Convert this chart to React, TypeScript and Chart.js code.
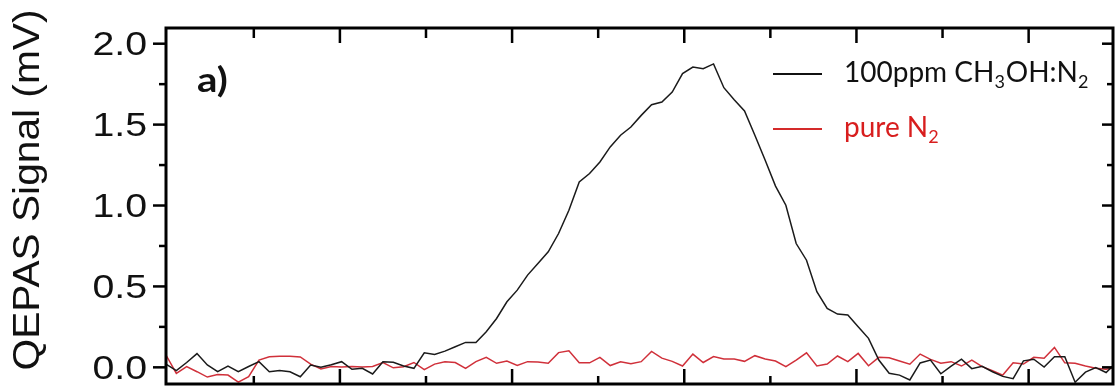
import React, { useEffect, useRef } from "react";
import { Chart, registerables } from "chart.js";

Chart.register(...registerables);

// Sampling grid of the scan (arbitrary units along the horizontal axis)
const SAMPLE_START = -0.02;
const SAMPLE_STEP = 0.12;

// QEPAS signal (mV) for 100 ppm CH3OH in N2
const methanolSignal = [
  0.02, -0.02, 0.03, 0.085, 0.015, -0.027, 0.008, -0.027, 0.005, 0.035,
  -0.027, -0.02, -0.027, -0.058, 0.014, 0.0, 0.016, 0.035, -0.012, -0.006,
  -0.041, 0.035, 0.031, 0.008, -0.006, 0.09, 0.08, 0.1, 0.127, 0.154,
  0.154, 0.22, 0.302, 0.405, 0.477, 0.57, 0.642, 0.714, 0.827, 0.971,
  1.146, 1.198, 1.269, 1.362, 1.434, 1.485, 1.557, 1.623, 1.64, 1.701,
  1.815, 1.856, 1.846, 1.875, 1.728, 1.654, 1.584, 1.434, 1.28, 1.12,
  1.002, 0.765, 0.662, 0.467, 0.364, 0.329, 0.323, 0.251, 0.179, 0.045,
  -0.037, -0.048, -0.078, 0.027, 0.045, -0.04, 0.008, 0.05, -0.008, 0.006,
  -0.027, -0.056, -0.07, 0.04, 0.05, 0.002, 0.065, 0.065, -0.092, -0.03,
  -0.001, -0.032, 0.03,
];

// QEPAS signal (mV) for pure N2
const nitrogenSignal = [
  0.076, -0.037, 0.004, -0.027, -0.06, -0.044, -0.048, -0.091, -0.058, 0.045,
  0.065, 0.068, 0.068, 0.064, 0.02, -0.01, 0.005, 0.002, 0.005, 0.002,
  0.005, 0.03, -0.003, 0.004, 0.03, -0.014, 0.02, 0.035, 0.03, -0.006,
  0.035, 0.062, 0.025, 0.039, 0.011, 0.035, 0.033, 0.025, 0.091, 0.102,
  0.028, 0.028, 0.062, 0.011, 0.034, 0.022, 0.035, 0.098, 0.057, 0.037,
  0.008, 0.082, 0.03, 0.067, 0.051, 0.051, 0.037, 0.072, 0.051, 0.039,
  0.004, 0.045, 0.09, 0.008, 0.02, 0.07, 0.035, 0.086, 0.01, 0.062,
  0.059, 0.039, 0.019, 0.082, 0.049, 0.025, 0.035, 0.008, 0.045, 0.004,
  -0.021, -0.048, 0.028, 0.02, 0.062, 0.056, 0.123, 0.028, 0.025, 0.008,
  -0.006, -0.012, 0.0,
];

const yMajorTicks = [0, 0.5, 1.0, 1.5, 2.0];
const yMinorTicks = [0.25, 0.75, 1.25, 1.75];
const xMajorTicks = [2, 4, 6, 8, 10];
const xMinorTicks = [1, 3, 5, 7, 9];

const yAxisTitle = "QEPAS Signal (mV)";
const panelLabel = "a)";

type TextPart = [string, boolean];
const legendEntries: { parts: TextPart[]; color: string; lineColor: string }[] = [
  {
    parts: [["100ppm CH", false], ["3", true], ["OH:N", false], ["2", true]],
    color: "#111111",
    lineColor: "#111111",
  },
  {
    parts: [["pure N", false], ["2", true]],
    color: "#d81e1e",
    lineColor: "#d42a2a",
  },
];

const toPoints = (values: number[]) =>
  values.map((y, i) => ({ x: SAMPLE_START + i * SAMPLE_STEP, y }));

const framePlugin = {
  id: "frameAndLabels",
  afterDatasetsDraw(chart: any) {
    const { ctx, chartArea } = chart;
    const { left, right, top, bottom } = chartArea;
    const xs = chart.scales.x;
    const ys = chart.scales.y;
    ctx.save();
    ctx.strokeStyle = "#000";
    ctx.lineWidth = 3;
    ctx.lineCap = "butt";
    ctx.strokeRect(left, top, right - left, bottom - top);

    const seg = (x1: number, y1: number, x2: number, y2: number) => {
      ctx.beginPath();
      ctx.moveTo(x1, y1);
      ctx.lineTo(x2, y2);
      ctx.stroke();
    };
    ctx.lineWidth = 2.5;
    // horizontal axis ticks (inward, top and bottom)
    xMajorTicks.forEach((v) => {
      const px = xs.getPixelForValue(v);
      seg(px, bottom, px, bottom - 15);
      seg(px, top, px, top + 15);
    });
    xMinorTicks.forEach((v) => {
      const px = xs.getPixelForValue(v);
      seg(px, bottom, px, bottom - 8);
      seg(px, top, px, top + 10);
    });
    // vertical axis ticks (outward left, inward right)
    yMajorTicks.forEach((v) => {
      const py = ys.getPixelForValue(v);
      seg(left - 13, py, left, py);
      seg(right - 11, py, right, py);
    });
    yMinorTicks.forEach((v) => {
      const py = ys.getPixelForValue(v);
      seg(left - 7, py, left, py);
      seg(right - 6, py, right, py);
    });
    ctx.restore();
  },
  afterDraw(chart: any) {
    const { ctx, chartArea } = chart;
    const { left, right, top } = chartArea;
    const ys = chart.scales.y;
    ctx.save();

    // tick labels
    ctx.fillStyle = "#111";
    ctx.font = "33px 'Liberation Sans', Arial, sans-serif";
    ctx.textAlign = "right";
    ctx.textBaseline = "alphabetic";
    yMajorTicks.forEach((v) => {
      const py = ys.getPixelForValue(v);
      ctx.save();
      ctx.translate(left - 19, py + 11.8);
      ctx.scale(1.19, 1);
      ctx.fillText(v.toFixed(1), 0, 0);
      ctx.restore();
    });

    // axis title
    ctx.save();
    ctx.font = "36px 'Liberation Sans', Arial, sans-serif";
    ctx.textAlign = "center";
    ctx.translate(39, 190);
    ctx.rotate(-Math.PI / 2);
    ctx.scale(1.13, 1);
    ctx.fillText(yAxisTitle, 0, 0);
    ctx.restore();

    // panel label
    ctx.save();
    ctx.font = "bold 35px Lato, 'Open Sans', sans-serif";
    ctx.textAlign = "left";
    ctx.translate(left + 31, top + 64);
    ctx.scale(1.15, 1);
    ctx.fillText(panelLabel, 0, 0);
    ctx.restore();

    // legend
    const mainFont = "28px Lato, 'Open Sans', sans-serif";
    const subFont = "18px Lato, 'Open Sans', sans-serif";
    legendEntries.forEach((entry, i) => {
      const baseY = top + 54 + i * 55;
      const lineY = baseY - 8;
      const lineX = right - 340;
      ctx.strokeStyle = entry.lineColor;
      ctx.lineWidth = 2;
      ctx.beginPath();
      ctx.moveTo(lineX, lineY);
      ctx.lineTo(lineX + 49, lineY);
      ctx.stroke();
      let tx = lineX + 71;
      ctx.fillStyle = entry.color;
      ctx.textAlign = "left";
      entry.parts.forEach(([text, sub]) => {
        ctx.font = sub ? subFont : mainFont;
        ctx.fillText(text, tx, sub ? baseY + 6 : baseY);
        tx += ctx.measureText(text).width + (sub ? 1 : 0);
      });
    });
    ctx.restore();
  },
};

export default function App() {
  const canvasRef = useRef<HTMLCanvasElement | null>(null);

  useEffect(() => {
    const canvas = canvasRef.current;
    if (!canvas) return;
    const chart = new Chart(canvas, {
      type: "line",
      data: {
        datasets: [
          {
            label: "100ppm CH3OH:N2",
            data: toPoints(methanolSignal),
            borderColor: "#1a1a1a",
            borderWidth: 1.5,
            pointRadius: 0,
            tension: 0,
          },
          {
            label: "pure N2",
            data: toPoints(nitrogenSignal),
            borderColor: "#d0303a",
            borderWidth: 1.5,
            pointRadius: 0,
            tension: 0,
          },
        ],
      },
      options: {
        responsive: false,
        animation: false,
        devicePixelRatio: 1,
        layout: { padding: { left: 166, top: 28, right: 2, bottom: 6 } },
        scales: {
          x: { type: "linear", min: -0.02, max: 10.98, display: false },
          y: { type: "linear", min: -0.103, max: 2.097, display: false },
        },
        plugins: {
          legend: { display: false },
          tooltip: { enabled: false },
        },
      },
      plugins: [framePlugin],
    });
    return () => chart.destroy();
  }, []);

  return (
    <div style={{ position: "absolute", left: 0, top: 0, width: 1115, height: 390, background: "#fff" }}>
      <canvas ref={canvasRef} width={1115} height={390} style={{ display: "block" }} />
    </div>
  );
}
